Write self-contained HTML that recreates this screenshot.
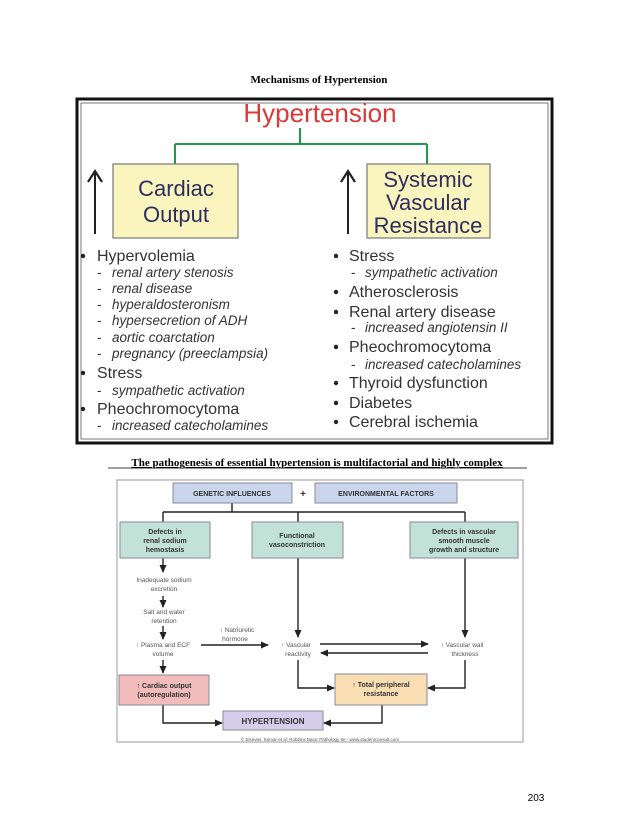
<!DOCTYPE html>
<html><head><meta charset="utf-8"><style>
html,body{margin:0;padding:0;background:#fff;}
svg{display:block;}
</style></head><body>
<svg width="638" height="826" viewBox="0 0 638 826" xmlns="http://www.w3.org/2000/svg">
<defs>
<marker id="ab" markerWidth="8" markerHeight="8" refX="7" refY="4" orient="auto" markerUnits="userSpaceOnUse">
<path d="M0,0.5 L8,4 L0,7.5 z" fill="#222"/></marker>
<marker id="abig" markerWidth="16" markerHeight="18" refX="12" refY="8" orient="auto" markerUnits="userSpaceOnUse">
<path d="M1,1 L12,8 L1,15" fill="none" stroke="#222" stroke-width="2.2"/></marker>
</defs>
<rect width="638" height="826" fill="#fff"/>
<g font-family="Liberation Serif, serif" font-weight="bold" fill="#000">
<text x="319" y="83" font-size="11" text-anchor="middle">Mechanisms of Hypertension</text>
<text x="317" y="466" font-size="11" text-anchor="middle" text-decoration="underline">The pathogenesis of essential hypertension is multifactorial and highly complex</text>
</g>
<line x1="108" y1="468" x2="527" y2="468" stroke="#000" stroke-width="0.8"/>
<text x="536" y="801" font-family="Liberation Sans, sans-serif" font-size="10" text-anchor="middle">203</text>

<!-- top figure -->
<rect x="77" y="99" width="475" height="344" fill="#fff" stroke="#111" stroke-width="3"/>
<rect x="81" y="103" width="467" height="336" fill="none" stroke="#555" stroke-width="0.8"/>
<text x="320" y="122" font-family="Liberation Sans, sans-serif" font-size="26" fill="#d83a3a" text-anchor="middle">Hypertension</text>
<path d="M300,128 V144 M175,144 H427 M175,144 V164 M427,144 V164" stroke="#1f9a4a" stroke-width="2" fill="none"/>
<rect x="113" y="164" width="125" height="74" fill="#faf5bf" stroke="#777" stroke-width="1.2"/>
<rect x="367" y="164" width="123" height="74" fill="#faf5bf" stroke="#777" stroke-width="1.2"/>
<g font-family="Liberation Sans, sans-serif" font-size="22" fill="#2e2e5e" text-anchor="middle">
<text x="176" y="196">Cardiac</text><text x="176" y="222">Output</text>
<text x="428" y="187">Systemic</text><text x="428" y="210">Vascular</text><text x="428" y="233">Resistance</text>
</g>
<line x1="95" y1="234" x2="95" y2="171" stroke="#222" stroke-width="2" marker-end="url(#abig)"/>
<line x1="348" y1="234" x2="348" y2="171" stroke="#222" stroke-width="2" marker-end="url(#abig)"/>
<g font-family="Liberation Sans, sans-serif" fill="#333">
<g font-size="16">
<text x="97" y="261">Hypervolemia</text><text x="97" y="378">Stress</text><text x="97" y="414">Pheochromocytoma</text>
<text x="349" y="261">Stress</text><text x="349" y="297">Atherosclerosis</text><text x="349" y="317">Renal artery disease</text>
<text x="349" y="352">Pheochromocytoma</text><text x="349" y="388">Thyroid dysfunction</text><text x="349" y="408">Diabetes</text><text x="349" y="427">Cerebral ischemia</text>
</g>
<g font-size="13.5" font-style="italic">
<text x="112" y="277">renal artery stenosis</text><text x="112" y="293">renal disease</text><text x="112" y="309">hyperaldosteronism</text>
<text x="112" y="325">hypersecretion of ADH</text><text x="112" y="342">aortic coarctation</text><text x="112" y="358">pregnancy (preeclampsia)</text>
<text x="112" y="395">sympathetic activation</text><text x="112" y="430">increased catecholamines</text>
<text x="365" y="277">sympathetic activation</text><text x="365" y="332">increased angiotensin II</text><text x="365" y="369">increased catecholamines</text>
</g>
<g font-size="13.5">
<text x="97" y="277">-</text><text x="97" y="293">-</text><text x="97" y="309">-</text><text x="97" y="325">-</text><text x="97" y="342">-</text><text x="97" y="358">-</text><text x="97" y="395">-</text><text x="97" y="430">-</text>
<text x="351" y="277">-</text><text x="351" y="332">-</text><text x="351" y="369">-</text>
</g>
</g>
<g fill="#222">
<circle cx="83" cy="256" r="2.2"/><circle cx="83" cy="373" r="2.2"/><circle cx="83" cy="409" r="2.2"/>
<circle cx="336" cy="256" r="2.2"/><circle cx="336" cy="292" r="2.2"/><circle cx="336" cy="312" r="2.2"/><circle cx="336" cy="347" r="2.2"/><circle cx="336" cy="383" r="2.2"/><circle cx="336" cy="403" r="2.2"/><circle cx="336" cy="422" r="2.2"/>
</g>

<!-- bottom figure -->
<rect x="117" y="480" width="406" height="262" fill="#fff" stroke="#999" stroke-width="1"/>
<g stroke="#222" stroke-width="1.4" fill="none">
<path d="M232,503 V512 M163,512 H465 M163,512 V522 M298,512 V522 M465,512 V522"/>
<line x1="163" y1="558" x2="163" y2="572" marker-end="url(#ab)"/>
<line x1="163" y1="596" x2="163" y2="607" marker-end="url(#ab)"/>
<line x1="163" y1="626" x2="163" y2="639" marker-end="url(#ab)"/>
<line x1="163" y1="660" x2="163" y2="673" marker-end="url(#ab)"/>
<line x1="201" y1="645" x2="268" y2="645" marker-end="url(#ab)"/>
<line x1="298" y1="558" x2="298" y2="637" marker-end="url(#ab)"/>
<line x1="465" y1="558" x2="465" y2="637" marker-end="url(#ab)"/>
<line x1="320" y1="644" x2="428" y2="644" marker-end="url(#ab)"/>
<line x1="428" y1="653" x2="321" y2="653" marker-end="url(#ab)"/>
<path d="M298,660 V688 H334" marker-end="url(#ab)"/>
<path d="M465,660 V688 H428" marker-end="url(#ab)"/>
<path d="M163,705 V723 H222" marker-end="url(#ab)"/>
<path d="M382,705 V723 H324" marker-end="url(#ab)"/>
</g>
<g stroke="#8a8a9a" stroke-width="1">
<rect x="173" y="483" width="119" height="20" fill="#c9d5ea"/>
<rect x="315" y="483" width="142" height="20" fill="#c9d5ea"/>
<rect x="120" y="522" width="90" height="36" fill="#c2e2d8"/>
<rect x="252" y="522" width="91" height="36" fill="#c2e2d8"/>
<rect x="410" y="522" width="108" height="36" fill="#c2e2d8"/>
<rect x="119" y="675" width="90" height="30" fill="#f2bcbc"/>
<rect x="335" y="674" width="92" height="31" fill="#f9ddb3"/>
<rect x="223" y="711" width="100" height="19" fill="#d5cdea"/>
</g>
<g font-family="Liberation Sans, sans-serif" font-size="7" font-weight="bold" fill="#333" text-anchor="middle">
<text x="232" y="496">GENETIC INFLUENCES</text>
<text x="303" y="497" font-size="10">+</text>
<text x="386" y="496">ENVIRONMENTAL FACTORS</text>
<text x="165" y="534">Defects in</text><text x="165" y="543">renal sodium</text><text x="165" y="552">hemostasis</text>
<text x="297" y="538">Functional</text><text x="297" y="547">vasoconstriction</text>
<text x="464" y="534">Defects in vascular</text><text x="464" y="543">smooth muscle</text><text x="464" y="552">growth and structure</text>
<text x="164" y="688">↑ Cardiac output</text><text x="164" y="697">(autoregulation)</text>
<text x="381" y="687">↑ Total peripheral</text><text x="381" y="696">resistance</text>
<text x="273" y="724" font-size="8">HYPERTENSION</text>
</g>
<g font-family="Liberation Sans, sans-serif" font-size="6.5" fill="#555" text-anchor="middle">
<text x="164" y="582">Inadequate sodium</text><text x="164" y="591">excretion</text>
<text x="164" y="614">Salt and water</text><text x="164" y="623">retention</text>
<text x="163" y="647">↑ Plasma and ECF</text><text x="163" y="656">volume</text>
<text x="237" y="632">↑ Natriuretic</text><text x="235" y="641">hormone</text>
<text x="296" y="647">↑ Vascular</text><text x="298" y="656">reactivity</text>
<text x="462" y="647">↑ Vascular wall</text><text x="465" y="656">thickness</text>
<text x="320" y="741" font-size="4.5">© Elsevier. Kumar et al: Robbins Basic Pathology 8e - www.studentconsult.com</text>
</g>
</svg>
</body></html>
